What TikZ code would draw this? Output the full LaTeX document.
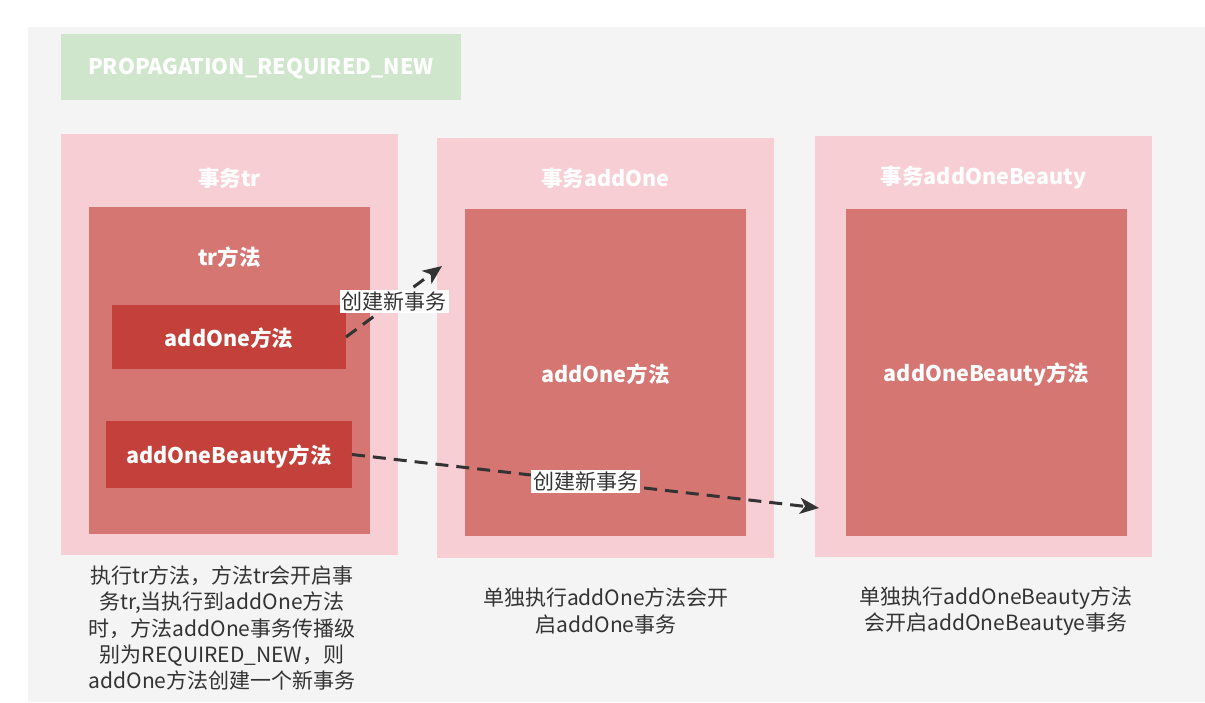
\documentclass[tikz,border=0pt]{standalone}
\usepackage{fontspec}
\setmainfont{Noto Sans CJK SC}
\usetikzlibrary{arrows.meta}
\definecolor{bggray}{HTML}{F4F4F4}
\definecolor{greenbox}{HTML}{D0E6CC}
\definecolor{pinkbox}{HTML}{F7CED3}
\definecolor{midred}{HTML}{D57672}
\definecolor{darkred}{HTML}{C4403A}
\definecolor{txt}{HTML}{333333}
\tikzset{
  rbox/.style={draw=none, anchor=north west, inner sep=0pt, outer sep=0pt},
  wlabel/.style={text=white, font=\fontsize{21.5}{24}\selectfont\bfseries, inner sep=0pt},
  note/.style={text=txt, font=\fontsize{21}{26.3}\selectfont, align=center, inner sep=0pt},
  conn/.style={line width=3pt, draw=txt, dash pattern=on 13pt off 8pt, -{Stealth[length=19pt,width=16pt,inset=5pt]}},
  clabel/.style={fill=white, text=txt, font=\fontsize{21}{24}\selectfont, inner sep=2pt}
}
\begin{document}
\begin{tikzpicture}[x=1pt,y=-1pt]
\useasboundingbox (0,0) rectangle (1205,702);
\fill[bggray] (28,27) rectangle (1205,702);
% green title
\node[rbox, fill=greenbox, minimum width=400pt, minimum height=66pt] (title) at (61,34) {};
\node[wlabel] (titletext) at (261,69) {PROPAGATION\_REQUIRED\_NEW};
% transaction boxes
\node[rbox, fill=pinkbox, minimum width=337pt, minimum height=421pt] (txtr) at (61,134) {};
\node[rbox, fill=pinkbox, minimum width=337pt, minimum height=420pt] (txone) at (437,138) {};
\node[rbox, fill=pinkbox, minimum width=337pt, minimum height=421pt] (txbeauty) at (815,136) {};
\node[wlabel] (txtrlabel) at (229.5,178) {事务tr};
\node[wlabel] (txonelabel) at (605.5,178) {事务addOne};
\node[wlabel] (txbeautylabel) at (983.5,178) {事务addOneBeauty};
% method boxes
\node[rbox, fill=midred, minimum width=281pt, minimum height=327pt] (trm) at (89,207) {};
\node[wlabel] (trmlabel) at (229.5,257) {tr方法};
\node[rbox, fill=darkred, minimum width=234pt, minimum height=64pt] (addone) at (112,305) {};
\node[wlabel] (addonelabel) at (229,338) {addOne方法};
\node[rbox, fill=darkred, minimum width=246pt, minimum height=67pt] (addbeauty) at (106,421) {};
\node[wlabel] (addbeautylabel) at (229,456) {addOneBeauty方法};
\node[rbox, fill=midred, minimum width=281pt, minimum height=327pt] (onem) at (465,209) {};
\node[wlabel] (onemlabel) at (605.5,374) {addOne方法};
\node[rbox, fill=midred, minimum width=281pt, minimum height=327pt] (beautym) at (846,209) {};
\node[wlabel] (beautymlabel) at (986.5,374) {addOneBeauty方法};
% connectors
\coordinate (e1) at (442,266);
\coordinate (e2) at (819,508);
\draw[conn] (addone.east) -- (e1) node[pos=0.5, clabel] {创建新事务};
\draw[conn] (addbeauty.east) -- (e2) node[pos=0.5, clabel] {创建新事务};
% notes
\node[note] (note1) at (222,628) {执行tr方法，方法tr会开启事\\务tr,当执行到addOne方法\\时，方法addOne事务传播级\\别为REQUIRED\_NEW，则\\addOne方法创建一个新事务};
\node[note] (note2) at (606,611) {单独执行addOne方法会开\\启addOne事务};
\node[note] (note3) at (996,611) {单独执行addOneBeauty方法\\会开启addOneBeautye事务};
\end{tikzpicture}
\end{document}
